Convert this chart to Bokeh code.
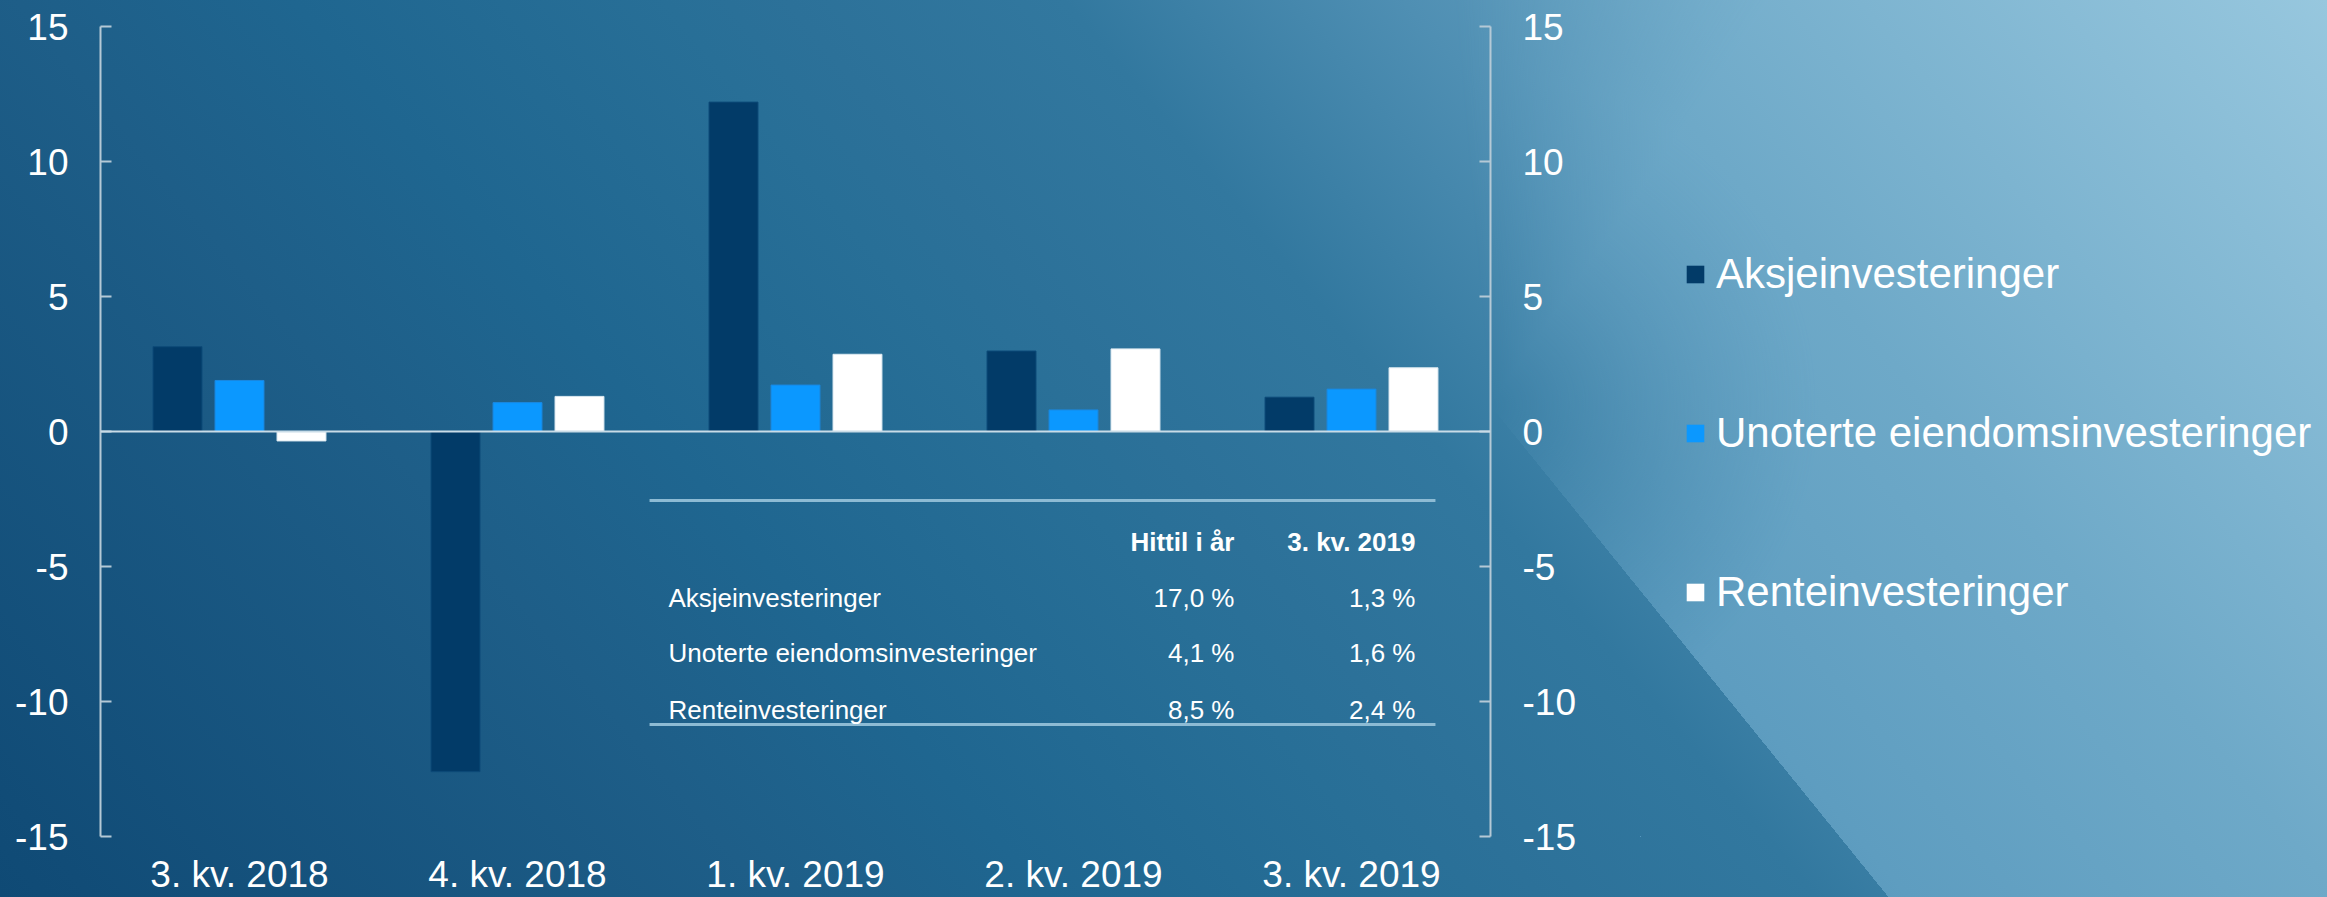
from bokeh.plotting import figure
from bokeh.layouts import row
from bokeh.models import (Range1d, FixedTicker, LinearAxis, Legend, LegendItem, Span,
                          InlineStyleSheet, ColumnDataSource)
from bokeh.transform import dodge
from bokeh.core.properties import value
from bokeh.embed import file_html
from bokeh.resources import INLINE

# ---------------- data ----------------
categories = ["3. kv. 2018", "4. kv. 2018", "1. kv. 2019", "2. kv. 2019", "3. kv. 2019"]
aksje = [3.14, -12.6, 12.2, 2.98, 1.27]
unoterte = [1.89, 1.07, 1.72, 0.80, 1.57]
rente = [-0.35, 1.30, 2.86, 3.06, 2.36]
series_names = ["Aksjeinvesteringer", "Unoterte eiendomsinvesteringer", "Renteinvesteringer"]
y_ticks = [-15, -10, -5, 0, 5, 10, 15]

table_header = ["Hittil i år", "3. kv. 2019"]
table_rows = ["Aksjeinvesteringer", "Unoterte eiendomsinvesteringer", "Renteinvesteringer"]
table_ytd = [17.0, 4.1, 8.5]
table_q = [1.3, 1.6, 2.4]

# ---------------- style ----------------
FONT = "Liberation Sans"
C_AKSJE, C_UNOT, C_RENTE = "#023B68", "#0B98FF", "#FFFFFF"
L_AKSJE, L_UNOT, L_RENTE = "#0d4a78", "#1a88e0", "#dce9f1"
AXIS_C = "#b5c9d6"

W, H = 2327, 897
W_MAIN = 1640

p = figure(width=W_MAIN, height=H, x_range=Range1d(0, len(categories)), y_range=Range1d(-15, 15),
           output_backend="svg", toolbar_location=None,
           min_border_left=100, min_border_right=W_MAIN - 1490, min_border_top=26, min_border_bottom=61)
p.grid.visible = False
p.background_fill_alpha = 0
p.border_fill_alpha = 0
p.outline_line_alpha = 0

xs = [i + 0.5 for i in range(len(categories))]
src = ColumnDataSource(dict(x=xs, aksje=aksje, unoterte=unoterte, rente=rente))
BW, OFF = 0.176, 0.223
bar_specs = [("aksje", -OFF, C_AKSJE, L_AKSJE), ("unoterte", 0, C_UNOT, L_UNOT),
             ("rente", OFF, C_RENTE, L_RENTE)]
for field, off, fc, lc in bar_specs:
    p.vbar(x=dodge("x", off), top=field, bottom=0, width=BW, source=src,
           fill_color=fc, line_color=lc, line_width=1)

p.add_layout(Span(location=0, dimension="width", line_color="#c9dce7", line_width=2))

# y axes (left and right)
def style_y(ax):
    ax.ticker = FixedTicker(ticks=y_ticks)
    ax.major_label_overrides = {t: str(t) for t in y_ticks}
    ax.axis_line_color = AXIS_C
    ax.axis_line_width = 2
    ax.major_tick_in = 11
    ax.major_tick_out = 0
    ax.major_tick_line_color = AXIS_C
    ax.major_tick_line_width = 2
    ax.minor_tick_line_alpha = 0
    ax.major_label_text_font = FONT
    ax.major_label_text_font_size = "37px"
    ax.major_label_text_color = "white"
    ax.major_label_standoff = 32

style_y(p.yaxis[0])
right_ax = LinearAxis()
style_y(right_ax)
p.add_layout(right_ax, "right")

# category axis
xa = p.xaxis[0]
xa.ticker = FixedTicker(ticks=xs)
xa.major_label_overrides = {x: c for x, c in zip(xs, categories)}
xa.axis_line_alpha = 0
xa.major_tick_in = 0
xa.major_tick_out = 0
xa.minor_tick_in = 0
xa.minor_tick_out = 0
xa.major_label_text_font = FONT
xa.major_label_text_font_size = "37px"
xa.major_label_text_color = "white"
xa.major_label_standoff = 17

# ---------------- inset table (layout positions in data units) ----------------
TX0, TX1 = 1.975, 4.802          # rule line extent
TY_TOP, TY_BOT = -2.556, -10.85  # rule line y
TX_LABEL, TX_C1, TX_C2 = 2.043, 4.079, 4.730
TY_HEAD = -4.11
TY_ROWS = [-6.15, -8.22, -10.30]

p.segment(x0=[TX0, TX0], y0=[TY_TOP, TY_BOT], x1=[TX1, TX1], y1=[TY_TOP, TY_BOT],
          line_color="#8dbbd4", line_width=3)

fmt = lambda v: f"{v:.1f}".replace(".", ",") + " %"
p.text(x=[TX_C1, TX_C2], y=[TY_HEAD, TY_HEAD], text=table_header,
       text_font=value(FONT), text_font_size="26px", text_font_style="bold",
       text_color="white", text_align="right", text_baseline="alphabetic")
p.text(x=[TX_LABEL] * 3, y=TY_ROWS, text=table_rows,
       text_font=value(FONT), text_font_size="26px",
       text_color="white", text_align="left", text_baseline="alphabetic")
p.text(x=[TX_C1] * 3, y=TY_ROWS, text=[fmt(v) for v in table_ytd],
       text_font=value(FONT), text_font_size="26px",
       text_color="white", text_align="right", text_baseline="alphabetic")
p.text(x=[TX_C2] * 3, y=TY_ROWS, text=[fmt(v) for v in table_q],
       text_font=value(FONT), text_font_size="26px",
       text_color="white", text_align="right", text_baseline="alphabetic")

# ---------------- legend panel (separate canvas to the right) ----------------
# same series renderers; this canvas' ranges lie far away from the data so only the legend shows
lg = figure(width=W - W_MAIN, height=H, x_range=Range1d(100, 101), y_range=Range1d(100, 101),
            output_backend="svg", toolbar_location=None, min_border=0,
            x_axis_location=None, y_axis_location=None)
lg.grid.visible = False
lg.background_fill_alpha = 0
lg.border_fill_alpha = 0
lg.outline_line_alpha = 0
keys = []
for field, off, fc, lc in bar_specs:
    keys.append(lg.vbar(x=dodge("x", off), top=field, bottom=0, width=BW, source=src,
                        fill_color=fc, line_color=None))

legend = Legend(items=[LegendItem(label=n, renderers=[r]) for n, r in zip(series_names, keys)],
                location=(44, 220), orientation="vertical")
legend.background_fill_alpha = 0
legend.border_line_alpha = 0
legend.label_text_color = "white"
legend.label_text_font = FONT
legend.label_text_font_size = "42px"
legend.glyph_width = 22
legend.glyph_height = 22
legend.label_standoff = 10
legend.label_height = 48
legend.spacing = 111
legend.padding = 0
legend.margin = 0
lg.add_layout(legend)

# ---------------- background (CSS) ----------------
css = """
:host {
  position: relative !important;
  z-index: 0;
  isolation: isolate;
  background: linear-gradient(50deg, #0f4a75 0%, #114c77 3%, #1e5e88 25%, #1f6690 34%, #286f97 46%,
                              #2c7199 50%, #32789f 59%, #4f8fb3 70%, #97c7de 100%);
}
:host::before {
  content: "";
  position: absolute;
  left: 0; top: 0; width: 100%; height: 100%;
  z-index: -1;
  pointer-events: none;
  background: linear-gradient(50deg, #3f80a8 0%, #5292b8 55%, #5e9dc0 62%, #6ea9c8 76%, #97c7de 100%);
  -webkit-mask-image: conic-gradient(from 141deg at 1490px 405px, transparent 0deg, transparent 214deg, #000 254deg, #000 360deg),
                      radial-gradient(circle at 1490px 405px, transparent 0px, #000 330px);
  -webkit-mask-composite: source-in;
  mask-image: conic-gradient(from 141deg at 1490px 405px, transparent 0deg, transparent 214deg, #000 254deg, #000 360deg),
              radial-gradient(circle at 1490px 405px, transparent 0px, #000 330px);
  mask-composite: intersect;
}
"""
root = row(p, lg)
root.spacing = 0
root.stylesheets = [InlineStyleSheet(css=css)]

open("out.html", "w").write(file_html(root, INLINE))
